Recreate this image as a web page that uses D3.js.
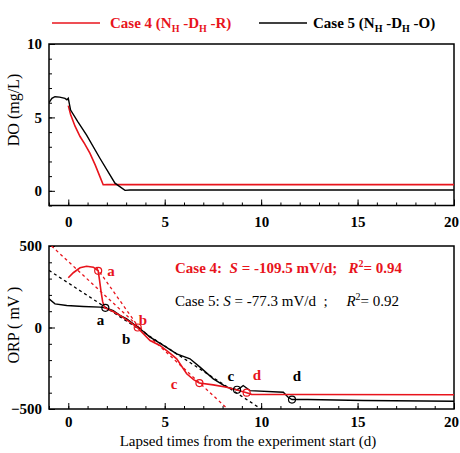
<!DOCTYPE html>
<html>
<head>
<meta charset="utf-8">
<script src="https://cdn.jsdelivr.net/npm/d3@7"></script>
<style>
  body { margin: 0; background: #fff; }
  svg text { font-family: "Liberation Serif", "Times New Roman", serif; white-space: pre; }
</style>
</head>
<body>
<div id="chart"></div>
<script>
// ---- data ----
// DO (mg/L)
let doDays4 = [0, 0.12, 0.35, 0.61, 0.85, 1.12, 1.4, 1.64, 1.81, 2.0, 20];
let doVals4 = [5.8, 5.2, 4.4, 3.7, 3.2, 2.56, 1.75, 0.97, 0.41, 0.42, 0.42];
let doDays5 = [-1, -0.85, -0.69, -0.45, -0.17, -0.07, 0, 0.12, 0.5, 0.95, 1.64, 2.42, 2.94, 3.2, 20];
let doVals5 = [6.0, 6.3, 6.41, 6.38, 6.3, 6.2, 6.3, 5.5, 4.7, 3.8, 2.22, 0.52, 0.03, 0.06, 0.06];

// ORP (mV)
let orpDays4 = [0, 0.26, 0.61, 0.95, 1.3, 1.55, 1.62, 1.7, 1.78, 1.88, 2.3, 2.68, 3.2, 3.6, 4.24, 4.75, 5.3, 5.62, 6.14, 6.5, 6.79, 7.52, 8.21, 8.7, 9.25, 9.5, 12, 20];
let orpVals4 = [305, 336, 366, 376, 370, 348, 290, 220, 160, 122, 100, 74, 33, -2, -80, -110, -160, -192, -284, -320, -341, -352, -366, -382, -400, -410, -411, -413];
let orpDays5 = [-1, -0.69, -0.08, 0.78, 1.64, 1.92, 2.33, 2.68, 3.03, 3.37, 3.72, 4.24, 4.93, 5.62, 6.31, 6.83, 7.52, 8.21, 8.73, 8.9, 9.07, 9.42, 11.15, 11.4, 11.6, 12.4, 15.3, 20];
let orpVals5 = [176, 145, 135, 129, 125, 121, 104, 74, 53, 23, -8, -59, -110, -162, -192, -243, -315, -366, -382, -372, -356, -387, -397, -428, -442, -442, -448, -452];

// linear fits
let fitSlope4 = -109.5, fitIntercept4 = 405;
let fitSlope5 = -77.3, fitIntercept5 = 273;
// extra red dashed segment (a -> b)
let segDays4 = [1.45, 3.75];
let segVals4 = [370, -15];

// stage points a-d
let stageNames = ["a", "b", "c", "d"];
let stageDays4 = [1.55, 3.6, 6.8, 9.25];
let stageVals4 = [348, 0, -341, -400];
let stageNames5 = ["a", "c", "d"];
let stageDays5 = [1.92, 8.75, 11.6];
let stageVals5 = [121, -382, -442];
// label spots for the stage letters
let labelDays4 = [2.21, 3.87, 5.48, 9.78];
let labelVals4 = [344, 43, -350, -294];
let labelNames5 = ["a", "b", "c", "d"];
let labelDays5 = [1.67, 3.0, 8.43, 11.85];
let labelVals5 = [43, -74, -300, -300];

let xTicks = [0, 5, 10, 15, 20];
let doTicks = [0, 5, 10];
let orpTicks = [-500, 0, 500];

const red = "#e8141c";
const width = 460, height = 453;
const svg = d3.select("#chart").append("svg")
  .attr("width", width).attr("height", height);

const x = d3.scaleLinear().domain([-1, 20]).range([49, 454]);
const yDo = d3.scaleLinear().domain([-1, 10]).range([205.5, 44]);
const yOrp = d3.scaleLinear().domain([-500, 500]).range([409, 246]);

function drawFrame(y, yMajor, yMinor, pad) {
  let g = svg.append("g");
  let bottom = y.range()[0];
  // x axis, ticks pointing inwards
  g.append("g").attr("transform", `translate(0,${bottom})`)
    .call(d3.axisBottom(x).tickValues(d3.range(-1, 21)).tickSize(-3).tickFormat(""))
    .call(a => a.select(".domain").remove());
  g.append("g").attr("transform", `translate(0,${bottom})`)
    .call(d3.axisBottom(x).tickValues(xTicks).tickSize(-6).tickPadding(pad))
    .call(a => a.select(".domain").remove())
    .selectAll("text").attr("font-size", 15).attr("font-weight", "bold").attr("fill", "#000")
    .attr("dx", d => d === 20 ? -3 : 0);
  // y axis
  g.append("g").attr("transform", `translate(${x.range()[0]},0)`)
    .call(d3.axisLeft(y).tickValues(yMinor).tickSize(-3).tickFormat(""))
    .call(a => a.select(".domain").remove());
  g.append("g").attr("transform", `translate(${x.range()[0]},0)`)
    .call(d3.axisLeft(y).tickValues(yMajor).tickSize(-6).tickPadding(7))
    .call(a => a.select(".domain").remove())
    .selectAll("text").attr("font-size", 15).attr("font-weight", "bold").attr("fill", "#000");
  g.selectAll(".tick line").attr("stroke", "#000").attr("stroke-width", 1);
  g.append("rect")
    .attr("x", x.range()[0]).attr("y", y.range()[1])
    .attr("width", x.range()[1] - x.range()[0])
    .attr("height", bottom - y.range()[1])
    .attr("fill", "none").attr("stroke", "#000").attr("stroke-width", 1.5);
}

drawFrame(yDo, doTicks, d3.range(-1, 11), 11);
drawFrame(yOrp, orpTicks, d3.range(-500, 501, 100), 7);

// clip paths for both panels
let defs = svg.append("defs");
defs.append("clipPath").attr("id", "clipDo").append("rect")
  .attr("x", 49).attr("y", 44).attr("width", 405).attr("height", 161.5);
defs.append("clipPath").attr("id", "clipOrp").append("rect")
  .attr("x", 49).attr("y", 246).attr("width", 405).attr("height", 163);

function series(days, vals) { return days.map((d, i) => [d, vals[i]]); }

let lineDo = d3.line().x(d => x(d[0])).y(d => yDo(d[1]));
let lineOrp = d3.line().x(d => x(d[0])).y(d => yOrp(d[1]));

// DO panel
let gDo = svg.append("g").attr("clip-path", "url(#clipDo)");
gDo.append("path").attr("d", lineDo(series(doDays4, doVals4)))
  .attr("fill", "none").attr("stroke", red).attr("stroke-width", 1.6);
gDo.append("path").attr("d", lineDo(series(doDays5, doVals5)))
  .attr("fill", "none").attr("stroke", "#000").attr("stroke-width", 1.4);

// ORP panel
let gOrp = svg.append("g").attr("clip-path", "url(#clipOrp)");
function fitPoints(slope, icpt) {
  let x0 = Math.max(-1, (500 - icpt) / slope);
  let x1 = Math.min(20, (-500 - icpt) / slope);
  return [[x0, icpt + slope * x0], [x1, icpt + slope * x1]];
}
gOrp.append("path").attr("d", lineOrp(fitPoints(fitSlope4, fitIntercept4)))
  .attr("fill", "none").attr("stroke", red).attr("stroke-width", 1.3).attr("stroke-dasharray", "3,3");
gOrp.append("path").attr("d", lineOrp(series(segDays4, segVals4)))
  .attr("fill", "none").attr("stroke", red).attr("stroke-width", 1.3).attr("stroke-dasharray", "3,3");
gOrp.append("path").attr("d", lineOrp(fitPoints(fitSlope5, fitIntercept5)))
  .attr("fill", "none").attr("stroke", "#000").attr("stroke-width", 1.3).attr("stroke-dasharray", "3,3");

gOrp.append("path").attr("d", lineOrp(series(orpDays5, orpVals5)))
  .attr("fill", "none").attr("stroke", "#000").attr("stroke-width", 1.4);
gOrp.append("path").attr("d", lineOrp(series(orpDays4, orpVals4)))
  .attr("fill", "none").attr("stroke", red).attr("stroke-width", 1.6);

gOrp.selectAll("circle.s5").data(series(stageDays5, stageVals5)).join("circle")
  .attr("class", "s5").attr("cx", d => x(d[0])).attr("cy", d => yOrp(d[1])).attr("r", 3.5)
  .attr("fill", "none").attr("stroke", "#000").attr("stroke-width", 1.2);
gOrp.selectAll("circle.s4").data(series(stageDays4, stageVals4)).join("circle")
  .attr("class", "s4").attr("cx", d => x(d[0])).attr("cy", d => yOrp(d[1])).attr("r", 3.5)
  .attr("fill", "none").attr("stroke", red).attr("stroke-width", 1.2);

svg.selectAll("text.l4").data(stageNames).join("text")
  .attr("class", "l4").attr("x", (d, i) => x(labelDays4[i])).attr("y", (d, i) => yOrp(labelVals4[i]))
  .attr("text-anchor", "middle").attr("dy", "0.32em")
  .attr("font-size", 15).attr("font-weight", "bold").attr("fill", red).text(d => d);
svg.selectAll("text.l5").data(labelNames5).join("text")
  .attr("class", "l5").attr("x", (d, i) => x(labelDays5[i])).attr("y", (d, i) => yOrp(labelVals5[i]))
  .attr("text-anchor", "middle").attr("dy", "0.32em")
  .attr("font-size", 15).attr("font-weight", "bold").attr("fill", "#000").text(d => d);

// fit annotations
let t4 = svg.append("text").attr("x", 175).attr("y", 273).attr("font-size", 15)
  .attr("font-weight", "bold").attr("fill", red);
t4.append("tspan").text("Case 4:  ");
t4.append("tspan").attr("font-style", "italic").text("S");
t4.append("tspan").text(" = -109.5 mV/d;   ");
t4.append("tspan").attr("font-style", "italic").text("R");
t4.append("tspan").attr("dy", -6).attr("font-size", 10).text("2");
t4.append("tspan").attr("dy", 6).text("= 0.94");

let t5 = svg.append("text").attr("x", 175).attr("y", 306).attr("font-size", 15)
  .attr("fill", "#000");
t5.append("tspan").text("Case 5: ");
t5.append("tspan").attr("font-style", "italic").text("S");
t5.append("tspan").text(" = -77.3 mV/d  ;     ");
t5.append("tspan").attr("font-style", "italic").text("R");
t5.append("tspan").attr("dy", -6).attr("font-size", 10).text("2");
t5.append("tspan").attr("dy", 6).text("= 0.92");

// axis titles
svg.append("text").attr("transform", "translate(19,110) rotate(-90)")
  .attr("text-anchor", "middle").attr("font-size", 16).text("DO (mg/L)");
svg.append("text").attr("transform", "translate(19,325) rotate(-90)")
  .attr("text-anchor", "middle").attr("font-size", 16).text("ORP ( mV )");
svg.append("text").attr("x", 248).attr("y", 446)
  .attr("text-anchor", "middle").attr("font-size", 15).text("Lapsed times from the experiment start (d)");

// legend
function legendItem(x0, x1, tx, color, caseLabel, last) {
  svg.append("line").attr("x1", x0).attr("x2", x1).attr("y1", 23).attr("y2", 23)
    .attr("stroke", color).attr("stroke-width", 1.5);
  let t = svg.append("text").attr("x", tx).attr("y", 28).attr("font-size", 15)
    .attr("font-weight", "bold").attr("fill", color);
  t.append("tspan").text(caseLabel + " (N");
  t.append("tspan").attr("dy", 4).attr("font-size", 10).text("H");
  t.append("tspan").attr("dy", -4).text(" -D");
  t.append("tspan").attr("dy", 4).attr("font-size", 10).text("H");
  t.append("tspan").attr("dy", -4).text(" -" + last + ")");
}
legendItem(52, 100, 110, red, "Case 4", "R");
legendItem(259, 307, 313, "#000", "Case 5", "O");
</script>
</body>
</html>
